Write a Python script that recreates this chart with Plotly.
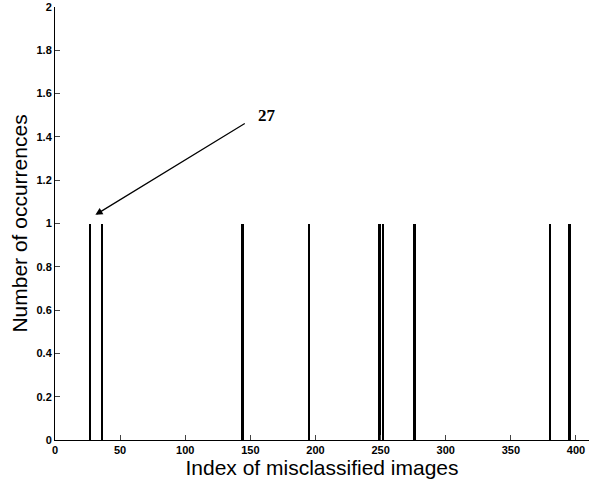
import plotly.graph_objects as go

indices = [27, 36, 144, 195, 249, 252, 276, 380, 395]
counts = [1, 1, 1, 1, 1, 1, 1, 1, 1]
x_ticks = [0, 50, 100, 150, 200, 250, 300, 350, 400]
y_ticks = [0, 0.2, 0.4, 0.6, 0.8, 1, 1.2, 1.4, 1.6, 1.8, 2]
y_tick_text = ["0", "0.2", "0.4", "0.6", "0.8", "1", "1.2", "1.4", "1.6", "1.8", "2"]

fig = go.Figure()
fig.add_trace(go.Bar(x=indices, y=counts, width=1.9,
                     marker=dict(color="black", line=dict(width=0))))

fig.add_annotation(x=31, y=1.04, ax=148, ay=1.47, axref="x", ayref="y",
                   xref="x", yref="y", text=" ", showarrow=True,
                   arrowhead=2, arrowsize=1.2, arrowwidth=1.2, arrowcolor="black")
fig.add_annotation(x=163, y=1.5, xref="x", yref="y", text="<b>27</b>",
                   showarrow=False, font=dict(family="Liberation Serif", size=17, color="black"))

fig.update_layout(
    width=590, height=483,
    margin=dict(l=55, r=1, t=7, b=43),
    plot_bgcolor="white", paper_bgcolor="white",
    showlegend=False, bargap=0,
    font=dict(family="Liberation Sans", color="black"),
)
fig.update_xaxes(range=[0, 410], tickvals=x_ticks, ticks="inside", ticklen=5,
                 showgrid=False, zeroline=False, showline=True, linecolor="black",
                 linewidth=1, tickfont=dict(size=11, family="Liberation Sans", weight="bold"),
                 title=dict(text="Index of misclassified images", standoff=2,
                            font=dict(size=21, family="Liberation Sans")))
fig.update_yaxes(range=[0, 2], tickvals=y_ticks, ticktext=y_tick_text, ticks="inside",
                 ticklen=5, showgrid=False, zeroline=False, showline=True,
                 linecolor="black", linewidth=1,
                 tickfont=dict(size=11, family="Liberation Sans", weight="bold"),
                 title=dict(text="Number of occurrences", standoff=3,
                            font=dict(size=21, family="Liberation Sans")))

fig.write_html("out.html")
